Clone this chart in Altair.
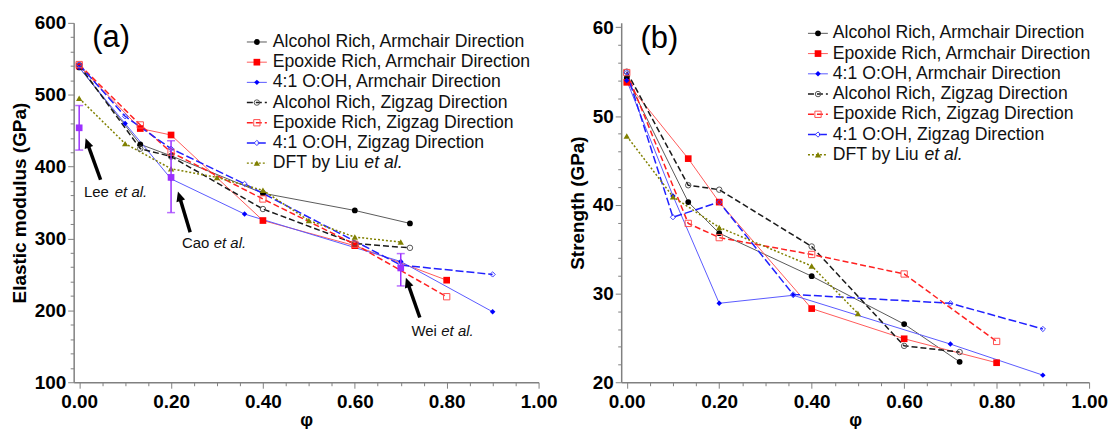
import math
import altair as alt
import pandas as pd

FONT = "Liberation Sans"

# ---------------- data ----------------
SERIES = ["Alcohol Rich, Armchair Direction", "Epoxide Rich, Armchair Direction",
          "4:1 O:OH, Armchair Direction", "Alcohol Rich, Zigzag Direction",
          "Epoxide Rich, Zigzag Direction", "4:1 O:OH, Zigzag Direction", "DFT by Liu et al."]
LEGEND_PLAIN = ["Alcohol Rich, Armchair Direction", "Epoxide Rich, Armchair Direction",
                "4:1 O:OH, Armchair Direction", "Alcohol Rich, Zigzag Direction",
                "Epoxide Rich, Zigzag Direction", "4:1 O:OH, Zigzag Direction", "DFT by Liu"]
LEGEND_ITALIC = ["", "", "", "", "", "", "et al."]

PHI_ALC = [0.0, 0.133, 0.2, 0.4, 0.6, 0.72]
PHI_EPO = [0.0, 0.133, 0.2, 0.4, 0.6, 0.8]
PHI_41 = [0.0, 0.1, 0.2, 0.36, 0.7, 0.9]
PHI_DFT_A = [0.0, 0.1, 0.2, 0.3, 0.4, 0.5, 0.6, 0.7]
PHI_DFT_B = [0.0, 0.1, 0.2, 0.4, 0.5]

# (a) elastic modulus, GPa
E_ALC_ARM = [538, 431, 415, 363, 339, 321]
E_EPO_ARM = [540, 453, 444, 325, 290, 242]
E_41_ARM = [538, 460, 383, 334, 268, 198]
E_ALC_ZIG = [541, 425, 414, 341, 293, 287]
E_EPO_ZIG = [542, 458, 420, 355, 292, 219]
E_41_ZIG = [542, 470, 425, 376, 263, 250]
E_DFT = [495, 432, 397, 385, 367, 325, 302, 295]

# (b) strength, GPa
S_ALC_ARM = [54.3, 40.3, 36.8, 31.95, 26.55, 22.3]
S_EPO_ARM = [53.8, 45.2, 40.3, 28.3, 24.9, 22.2]
S_41_ARM = [54.0, 41.0, 28.9, 29.8, 24.3, 20.8]
S_ALC_ZIG = [55.0, 42.2, 41.7, 35.3, 24.1, 23.4]
S_EPO_ZIG = [54.9, 37.9, 36.3, 34.4, 32.2, 24.6]
S_41_ZIG = [54.9, 38.6, 40.3, 29.9, 28.9, 26.0]
S_DFT = [47.75, 40.9, 37.45, 33.1, 27.75]

# experiments (a)
EXP_NAMES = ["Lee", "Cao", "Wei"]
EXP_PHI = [0.0, 0.2, 0.7]
EXP_E = [454, 385, 259]
EXP_LO = [423, 336, 234]
EXP_HI = [485, 436, 279]

# annotation arrows (a): tail and tip
ARR_TAIL_PHI = [0.0466, 0.2416, 0.7415]
ARR_TAIL_E = [381.7, 308.7, 190.1]
ARR_TIP_PHI = [0.014, 0.215, 0.7112]
ARR_TIP_E = [439.5, 365.5, 245.5]
ANN_PHI = [0.0104, 0.2236, 0.7233]
ANN_E = [365, 294, 171.5]
ANN_ITAL_DX = [31, 32, 30]

# ---------------- styles ----------------
STYLE = [
    dict(line="#5a5a5a", width=1.0, dash=None, shape="circle", filled=True, mcolor="#000000", size=34),
    dict(line="#ff5a5a", width=1.0, dash=None, shape="square", filled=True, mcolor="#ff0000", size=45),
    dict(line="#5a5aff", width=1.0, dash=None, shape="diamond", filled=True, mcolor="#0000ff", size=30),
    dict(line="#1a1a1a", width=1.5, dash=[6, 3], shape="circle", filled=False, mcolor="#555555", size=30),
    dict(line="#ff2020", width=1.5, dash=[6, 3], shape="square", filled=False, mcolor="#ff5050", size=40),
    dict(line="#2020ff", width=1.5, dash=[8, 3], shape="diamond", filled=False, mcolor="#4040ff", size=28),
    dict(line="#808000", width=1.5, dash=[2, 2], shape="triangle-up", filled=True, mcolor="#808000", size=40),
]
PURPLE = "#9b30ff"
XDOM = [-0.012, 1.0]
X_TICKS = [round(i * 0.05, 2) for i in range(21)]
H = 361


def make_x():
    ax = alt.Axis(values=X_TICKS, title="φ", grid=False, labelOverlap=False, labelFlush=False,
                  labelExpr="round(datum.value*100) % 20 === 0 ? format(datum.value, '.2f') : ''",
                  tickSize={"condition": {"test": "round(datum.value*100) % 20 === 0", "value": 6}, "value": 3.5},
                  labelPadding=4, titlePadding=0, titleFontSize=18)
    return alt.X("phi:Q", scale=alt.Scale(domain=XDOM, nice=False, zero=False), axis=ax)


def make_y(ydom, yticks, major, title):
    ax = alt.Axis(values=yticks, title=title, grid=False, labelOverlap=False,
                  labelExpr=f"datum.value % {major} === 0 ? format(datum.value, 'd') : ''",
                  tickSize={"condition": {"test": f"datum.value % {major} === 0", "value": 6}, "value": 3.5},
                  labelPadding=2, titlePadding=5)
    return alt.Y("v:Q", scale=alt.Scale(domain=ydom, nice=False, zero=False), axis=ax)


def line_kw(st):
    kw = dict(color=st["line"], strokeWidth=st["width"])
    if st["dash"]:
        kw["strokeDash"] = st["dash"]
    return kw


def point_kw(st):
    kw = dict(shape=st["shape"], filled=st["filled"], color=st["mcolor"], size=st["size"], opacity=1)
    if not st["filled"]:
        kw["strokeWidth"] = 1
    return kw


def panel(phis, vals, ydom, yticks, major, ytitle, W, leg, label, extra):
    X = make_x()
    Y = make_y(ydom, yticks, major, ytitle)
    pxphi = W / (XDOM[1] - XDOM[0])
    layers = []
    for k in range(len(SERIES)):
        df = pd.DataFrame({"phi": phis[k], "v": vals[k]})
        st = STYLE[k]
        layers.append(alt.Chart(df).mark_line(**line_kw(st)).encode(x=X, y=Y))
    for k in range(len(SERIES)):
        df = pd.DataFrame({"phi": phis[k], "v": vals[k]})
        st = STYLE[k]
        layers.append(alt.Chart(df).mark_point(**point_kw(st)).encode(x=X, y=Y))
    layers += extra(X, Y, W)
    # legend
    top, step, lx0, lx1, lm, lt = leg
    for k in range(len(SERIES)):
        st = STYLE[k]
        yv = top - k * step
        ldf = pd.DataFrame({"phi": [lx0], "phi2": [lx1], "v": [yv]})
        layers.append(alt.Chart(ldf).mark_rule(**line_kw(st)).encode(x=X, x2="phi2:Q", y=Y))
        mdf = pd.DataFrame({"phi": [lm], "v": [yv]})
        layers.append(alt.Chart(mdf).mark_point(**point_kw(st)).encode(x=X, y=Y))
    tdf = pd.DataFrame({"phi": [lt] * len(SERIES), "v": [top - k * step for k in range(len(SERIES))],
                        "t": LEGEND_PLAIN})
    layers.append(alt.Chart(tdf).mark_text(align="left", baseline="middle", font=FONT, fontSize=17.7,
                                           color="#111111").encode(x=X, y=Y, text="t:N"))
    idf = pd.DataFrame({"phi": [lt + 92 / pxphi], "v": [top - 6 * step], "t": [LEGEND_ITALIC[6]]})
    layers.append(alt.Chart(idf).mark_text(align="left", baseline="middle", font=FONT, fontSize=17.7,
                                           fontStyle="italic", color="#111111").encode(x=X, y=Y, text="t:N"))
    # panel label
    pdf = pd.DataFrame({"phi": [label[1]], "v": [label[2]], "t": [label[0]]})
    layers.append(alt.Chart(pdf).mark_text(align="left", baseline="middle", font=FONT, fontSize=31,
                                           color="#000000").encode(x=X, y=Y, text="t:N"))
    return alt.layer(*layers).properties(width=W, height=H)


def extra_a(X, Y, W):
    pxphi = W / (XDOM[1] - XDOM[0])
    pxv = H / 500.0
    out = []
    bdf = pd.DataFrame({"phi": EXP_PHI, "v": EXP_LO, "v2": EXP_HI})
    out.append(alt.Chart(bdf).mark_rule(color=PURPLE, strokeWidth=1.5).encode(x=X, y=Y, y2="v2:Q"))
    cdf = pd.DataFrame({"phi": EXP_PHI + EXP_PHI, "v": EXP_LO + EXP_HI})
    out.append(alt.Chart(cdf).mark_tick(color=PURPLE, orient="horizontal", size=8, thickness=1.5).encode(x=X, y=Y))
    edf = pd.DataFrame({"phi": EXP_PHI, "v": EXP_E})
    out.append(alt.Chart(edf).mark_point(shape="square", filled=True, color=PURPLE, size=45, opacity=1).encode(x=X, y=Y))
    # arrows
    rows = []
    for tp, te, hp, he in zip(ARR_TAIL_PHI, ARR_TAIL_E, ARR_TIP_PHI, ARR_TIP_E):
        dx = (hp - tp) * pxphi
        dy = (he - te) * pxv
        L = math.hypot(dx, dy)
        ux, uy = dx / L, dy / L
        cp = hp - 6 * ux / pxphi
        ce = he - 6 * uy / pxv
        ang = math.degrees(math.atan2(dx, dy)) % 360
        rows.append({"phi": tp, "v": te, "phi2": cp, "v2": ce, "ang": ang})
    adf = pd.DataFrame(rows)
    out.append(alt.Chart(adf).mark_rule(color="#000000", strokeWidth=3.5).encode(x=X, y=Y, x2="phi2:Q", y2="v2:Q"))
    hdf = pd.DataFrame({"phi": adf["phi2"], "v": adf["v2"], "ang": adf["ang"]})
    out.append(alt.Chart(hdf).mark_point(shape="M0,-1L-0.75,0.65L0.75,0.65Z", filled=True, color="#000000",
                                         size=144, opacity=1).encode(x=X, y=Y, angle=alt.Angle("ang:Q", scale=None)))
    # annotation text
    ndf = pd.DataFrame({"phi": ANN_PHI, "v": ANN_E, "t": EXP_NAMES})
    out.append(alt.Chart(ndf).mark_text(align="left", baseline="middle", font=FONT, fontSize=15,
                                        color="#111111").encode(x=X, y=Y, text="t:N"))
    jdf = pd.DataFrame({"phi": [p + d / pxphi for p, d in zip(ANN_PHI, ANN_ITAL_DX)], "v": ANN_E,
                        "t": ["et al."] * 3})
    out.append(alt.Chart(jdf).mark_text(align="left", baseline="middle", font=FONT, fontSize=15,
                                        fontStyle="italic", color="#111111").encode(x=X, y=Y, text="t:N"))
    return out


def extra_b(X, Y, W):
    return []


left = panel([PHI_ALC, PHI_EPO, PHI_41, PHI_ALC, PHI_EPO, PHI_41, PHI_DFT_A],
             [E_ALC_ARM, E_EPO_ARM, E_41_ARM, E_ALC_ZIG, E_EPO_ZIG, E_41_ZIG, E_DFT],
             [100, 600], list(range(100, 601, 20)), 100, "Elastic modulus (GPa)", 467,
             (573.4, 28.09, 0.365, 0.4085, 0.3868, 0.4214), ("(a)", 0.0286, 578.5), extra_a)

right = panel([PHI_ALC, PHI_EPO, PHI_41, PHI_ALC, PHI_EPO, PHI_41, PHI_DFT_B],
              [S_ALC_ARM, S_EPO_ARM, S_41_ARM, S_ALC_ZIG, S_EPO_ZIG, S_41_ZIG, S_DFT],
              [20, 60.5], list(range(20, 61, 2)), 10, "Strength (GPa)", 470,
              (59.32, 2.281, 0.392, 0.435, 0.4137, 0.4457), ("(b)", 0.0297, 58.65), extra_b)

chart = alt.hconcat(left, right, spacing=10).properties(
    padding={"left": 10, "top": 13, "right": 0, "bottom": 0}
).configure_view(stroke=None).configure_axis(
    domainColor="#808080", domainWidth=1.5, tickColor="#808080", tickWidth=1,
    labelFont=FONT, labelFontSize=19, labelFontWeight="bold", labelColor="#000000",
    titleFont=FONT, titleFontSize=19, titleFontWeight="bold", titleColor="#000000"
)

chart.save("out.html", embed_options={"renderer": "svg", "actions": False})
